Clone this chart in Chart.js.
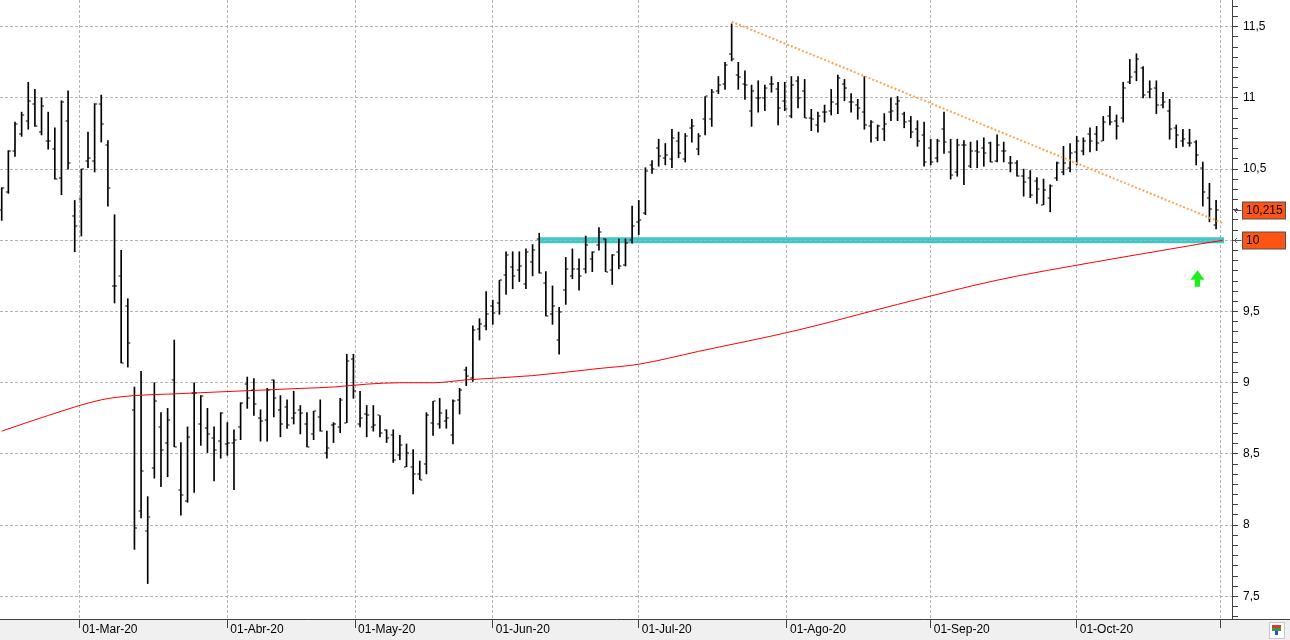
<!DOCTYPE html>
<html>
<head>
<meta charset="utf-8">
<script src="https://cdn.jsdelivr.net/npm/chart.js@4.4.0/dist/chart.umd.min.js"></script>
<style>
html, body { margin: 0; padding: 0; background: #fff; }
canvas { display: block; }
</style>
</head>
<body>
<canvas id="chart" width="1290" height="640"></canvas>
<script>
// trading calendar (Madrid): weekdays minus market holidays
const firstDay = '2020-02-13';
const lastDay = '2020-11-02';
const holidays = ['2020-04-10', '2020-04-13', '2020-05-01'];

const monthStarts = ['2020-03-01', '2020-04-01', '2020-05-01', '2020-06-01', '2020-07-01',
	'2020-08-01', '2020-09-01', '2020-10-01', '2020-11-01'];
const monthLabels = ['01-Mar-20', '01-Abr-20', '01-May-20', '01-Jun-20', '01-Jul-20',
	'01-Ago-20', '01-Sep-20', '01-Oct-20', ''];

// daily bars, one per trading day from 13-Feb-20
const opens = [
	10.21, 10.34, 10.63, 10.75, 10.84, 10.96, 10.76, 10.70, 10.64, 10.44, 10.84, 10.17,
	10.29, 10.56, 10.56, 10.96, 10.67, 9.68, 9.75, 9.54, 8.81, 8.10, 7.96, 8.40, 8.69, 8.58, 9.02, 8.25, 8.17, 8.93, 8.71, 8.68, 8.61, 8.59,
	8.57, 8.58, 8.69, 8.99, 8.95, 8.75, 8.74, 9.02, 8.81, 8.83, 8.75, 8.81, 8.71, 8.64, 8.76, 8.51, 8.70, 8.69, 8.72, 9.17,
	8.71, 8.78, 8.69, 8.77, 8.67, 8.63, 8.49, 8.41, 8.41, 8.36, 8.43, 8.72, 8.71, 8.73, 8.63, 8.88, 9.09, 9.03, 9.38, 9.40,
	9.54, 9.56, 9.76, 9.81, 9.79, 9.69, 9.85, 10.01, 9.70, 9.48, 9.30, 9.65, 9.75, 9.80, 9.80, 9.87, 9.97, 10.01, 9.79, 9.92, 9.83, 10.00,
	10.13, 10.19, 10.53, 10.65, 10.58, 10.57, 10.70, 10.57, 10.79, 10.64, 10.85, 10.85, 11.05, 11.10, 11.31, 11.16, 11.10, 10.91, 11.00, 11.00, 11.10, 11.06, 10.98,
	10.87, 11.12, 11.05, 10.86, 10.81, 10.90, 10.91, 10.96, 11.10, 10.97, 10.95, 10.90, 10.80, 10.72, 10.78, 10.90, 10.96, 10.89, 10.84, 10.78, 10.74,
	10.65, 10.58, 10.78, 10.62, 10.48, 10.67, 10.52, 10.63, 10.65, 10.68, 10.56, 10.63, 10.54, 10.54, 10.45, 10.44, 10.42, 10.25, 10.30, 10.44, 10.48, 10.51,
	10.62, 10.63, 10.75, 10.75, 10.70, 10.87, 10.84, 10.86, 11.11, 11.18, 11.21, 11.04, 11.07, 10.95, 10.91, 10.79, 10.70, 10.68, 10.69, 10.51, 10.30, 10.11
];
const highs = [
	10.37, 10.63, 10.83, 10.90, 11.11, 11.06, 11.00, 10.90, 10.79, 10.98, 11.05, 10.28,
	10.50, 10.76, 10.96, 11.02, 10.70, 10.18, 9.93, 9.59, 8.97, 9.08, 8.20, 9.00, 8.79, 8.82, 9.30, 8.58, 8.69, 9.00, 8.91, 8.82, 8.69, 8.79,
	8.72, 8.67, 8.86, 9.04, 9.03, 8.81, 8.96, 9.02, 8.91, 8.88, 8.94, 8.84, 8.79, 8.80, 8.88, 8.66, 8.72, 8.89, 9.20, 9.20,
	8.94, 8.84, 8.84, 8.77, 8.67, 8.67, 8.63, 8.57, 8.53, 8.45, 8.79, 8.87, 8.89, 8.81, 8.88, 8.96, 9.11, 9.40, 9.45, 9.64,
	9.58, 9.72, 9.92, 9.92, 9.92, 9.94, 9.97, 10.05, 9.78, 9.68, 9.53, 9.88, 9.94, 9.87, 10.03, 9.92, 10.09, 10.01, 9.90, 10.01, 10.01, 10.24,
	10.28, 10.51, 10.56, 10.71, 10.68, 10.78, 10.76, 10.75, 10.85, 10.75, 11.01, 11.06, 11.15, 11.25, 11.52, 11.25, 11.19, 11.09, 11.12, 11.09, 11.15, 11.11, 11.11,
	11.15, 11.15, 11.13, 10.92, 10.90, 10.95, 11.06, 11.16, 11.13, 11.03, 10.99, 11.15, 10.84, 10.81, 10.89, 11.00, 11.01, 10.90, 10.87, 10.84, 10.83,
	10.71, 10.71, 10.90, 10.71, 10.71, 10.70, 10.69, 10.70, 10.72, 10.69, 10.74, 10.69, 10.59, 10.56, 10.50, 10.49, 10.44, 10.43, 10.39, 10.55, 10.66, 10.68,
	10.73, 10.72, 10.79, 10.80, 10.87, 10.94, 10.88, 11.11, 11.27, 11.31, 11.22, 11.12, 11.12, 11.04, 10.99, 10.81, 10.78, 10.78, 10.70, 10.55, 10.40, 10.28
];
const lows = [
	10.14, 10.33, 10.59, 10.73, 10.78, 10.80, 10.74, 10.64, 10.43, 10.32, 10.50, 9.92,
	10.03, 10.51, 10.48, 10.69, 10.24, 9.56, 9.14, 9.11, 7.83, 8.05, 7.59, 8.33, 8.27, 8.34, 8.55, 8.07, 8.16, 8.23, 8.56, 8.51, 8.31, 8.47,
	8.49, 8.25, 8.60, 8.82, 8.77, 8.59, 8.59, 8.76, 8.62, 8.68, 8.71, 8.64, 8.55, 8.60, 8.66, 8.47, 8.58, 8.65, 8.72, 8.89,
	8.69, 8.62, 8.66, 8.62, 8.58, 8.44, 8.46, 8.41, 8.22, 8.32, 8.36, 8.63, 8.68, 8.68, 8.57, 8.78, 8.98, 9.01, 9.30, 9.37,
	9.41, 9.48, 9.62, 9.66, 9.71, 9.66, 9.75, 9.77, 9.47, 9.41, 9.20, 9.55, 9.73, 9.65, 9.77, 9.78, 9.93, 9.78, 9.69, 9.80, 9.82, 9.98,
	10.04, 10.18, 10.47, 10.52, 10.53, 10.51, 10.58, 10.55, 10.69, 10.60, 10.74, 10.80, 11.03, 11.06, 11.26, 11.06, 10.99, 10.80, 10.90, 10.91, 11.04, 10.81, 10.91,
	10.86, 10.93, 10.86, 10.77, 10.76, 10.83, 10.88, 10.89, 10.98, 10.90, 10.85, 10.78, 10.69, 10.70, 10.70, 10.84, 10.84, 10.79, 10.72, 10.66, 10.52,
	10.53, 10.55, 10.61, 10.43, 10.45, 10.39, 10.51, 10.51, 10.52, 10.55, 10.55, 10.55, 10.48, 10.45, 10.31, 10.30, 10.26, 10.25, 10.20, 10.42, 10.46, 10.48,
	10.53, 10.60, 10.62, 10.63, 10.70, 10.81, 10.71, 10.83, 11.10, 11.12, 11.00, 11.00, 10.89, 10.93, 10.71, 10.65, 10.66, 10.66, 10.53, 10.24, 10.13, 10.08
];
const closes = [
	10.37, 10.63, 10.82, 10.88, 10.98, 10.80, 10.94, 10.70, 10.43, 10.97, 10.54, 10.10,
	10.50, 10.58, 10.96, 10.82, 10.37, 9.68, 9.14, 9.28, 7.98, 8.38, 8.06, 8.87, 8.53, 8.74, 8.55, 8.21, 8.62, 8.93, 8.91, 8.64, 8.53, 8.79,
	8.58, 8.60, 8.86, 8.89, 8.85, 8.73, 8.95, 8.89, 8.71, 8.70, 8.79, 8.79, 8.55, 8.80, 8.66, 8.54, 8.71, 8.88, 9.15, 8.94,
	8.75, 8.77, 8.70, 8.65, 8.61, 8.46, 8.56, 8.51, 8.36, 8.32, 8.77, 8.87, 8.79, 8.75, 8.87, 8.95, 9.05, 9.37, 9.41, 9.48,
	9.49, 9.72, 9.90, 9.75, 9.82, 9.92, 9.93, 9.77, 9.47, 9.54, 9.50, 9.80, 9.80, 9.75, 9.97, 9.92, 10.06, 9.78, 9.90, 9.82, 9.98, 10.10,
	10.14, 10.49, 10.50, 10.59, 10.60, 10.72, 10.61, 10.73, 10.80, 10.73, 11.01, 11.04, 11.09, 11.23, 11.27, 11.15, 11.09, 11.05, 11.00, 11.07, 11.10, 10.93, 10.92,
	11.09, 11.00, 10.86, 10.85, 10.87, 10.90, 10.97, 11.14, 11.07, 10.97, 10.93, 10.81, 10.83, 10.80, 10.82, 10.91, 10.98, 10.83, 10.76, 10.70, 10.55,
	10.55, 10.70, 10.69, 10.46, 10.67, 10.67, 10.63, 10.62, 10.61, 10.55, 10.67, 10.63, 10.54, 10.45, 10.41, 10.32, 10.36, 10.35, 10.38, 10.54, 10.54, 10.61,
	10.70, 10.70, 10.70, 10.68, 10.83, 10.83, 10.80, 11.07, 11.15, 11.27, 11.02, 11.06, 10.95, 10.97, 10.78, 10.74, 10.71, 10.68, 10.60, 10.34, 10.22, 10.215
];

// moving average, read at sample bars
const maIdx = [0, 7, 15, 20, 25, 30, 35, 40, 45, 50, 55, 60, 65, 70, 80, 90, 96, 105, 120, 135, 150, 165, 175, 180, 184];
const maVal = [8.66, 8.77, 8.88, 8.91, 8.92, 8.93, 8.94, 8.95, 8.96, 8.97, 8.99, 9.00, 9.00, 9.02, 9.05, 9.10, 9.13, 9.22, 9.37, 9.55, 9.72, 9.85, 9.93, 9.97, 10.00];

// drawn studies
const supportLevel = 10;
const supportFrom = 81, supportTo = 184.2;
const trendIdx = [110, 184.2];
const trendVal = [11.535, 10.117];
const tagValues = [10.215, 10];
const tagTexts = ['10,215', '10'];
const signalIdx = 180.2, signalValue = 9.79;

function tradingDays(from, to) {
	let out = [];
	let d = new Date(from + 'T00:00:00Z');
	let end = new Date(to + 'T00:00:00Z');
	while (d <= end) {
		let wd = d.getUTCDay();
		let iso = d.toISOString().slice(0, 10);
		if (wd != 0 && wd != 6 && holidays.indexOf(iso) < 0) out.push(iso);
		d.setUTCDate(d.getUTCDate() + 1);
	}
	return out;
}

let days = tradingDays(firstDay, lastDay);
let dayMs = days.map(function(d) { return Date.parse(d + 'T00:00:00Z'); });

// month start as a position between trading days
function positionOf(iso) {
	let t = Date.parse(iso + 'T00:00:00Z');
	let k = dayMs.findIndex(function(m) { return m >= t; });
	if (k <= 0) return Math.max(k, 0);
	if (dayMs[k] == t) return k;
	return k - 1 + (t - dayMs[k - 1]) / (dayMs[k] - dayMs[k - 1]);
}
let monthTicks = monthStarts.map(positionOf);

const subSteps = 7;
function isMajor(v) { return Math.abs(v * 2 - Math.round(v * 2)) < 1e-6; }
function fmt(v) { return String(Math.round(v * 10) / 10).replace('.', ','); }

const gridGrey = '#b4b4b4';
const axisDark = '#404040';
const labelFont = { family: "'Liberation Sans', Arial, sans-serif", size: 12 };

let ohlcTicks = {
	id: 'ohlcTicks',
	afterDatasetsDraw: function(chart) {
		let ctx = chart.ctx, x = chart.scales.x, y = chart.scales.y;
		ctx.save();
		ctx.fillStyle = '#000';
		for (let i = 0; i < closes.length; i++) {
			let px = x.getPixelForValue(i);
			ctx.fillRect(px - 2.5, Math.round(y.getPixelForValue(opens[i])) - 0.5, 2, 1);
			ctx.fillRect(px + 0.5, Math.round(y.getPixelForValue(closes[i])) - 0.5, 2, 1);
		}
		ctx.restore();
	}
};

let frame = {
	id: 'frame',
	beforeDraw: function(chart) {
		let ctx = chart.ctx, a = chart.chartArea;
		ctx.save();
		ctx.fillStyle = '#fff';
		ctx.fillRect(0, 0, chart.width, chart.height);
		ctx.fillStyle = '#f0f0f0';
		ctx.fillRect(0, a.bottom, chart.width, chart.height - a.bottom);
		ctx.restore();
	},
	afterDraw: function(chart) {
		let ctx = chart.ctx, a = chart.chartArea, x = chart.scales.x, y = chart.scales.y;
		ctx.save();
		// axis line continues under the price scale
		ctx.strokeStyle = axisDark;
		ctx.lineWidth = 1;
		ctx.beginPath();
		ctx.moveTo(a.right, Math.round(a.bottom) + 0.5);
		ctx.lineTo(chart.width, Math.round(a.bottom) + 0.5);
		ctx.stroke();
		// price tags on the right axis
		ctx.font = "12px 'Liberation Sans', Arial, sans-serif";
		ctx.textBaseline = 'middle';
		for (let i = 0; i < tagValues.length; i++) {
			let py = Math.round(y.getPixelForValue(tagValues[i])) + 0.5;
			ctx.strokeStyle = '#555';
			ctx.lineWidth = 1;
			ctx.beginPath();
			ctx.moveTo(a.right + 2.5, py); ctx.lineTo(a.right + 9.5, py);
			ctx.moveTo(a.right + 5, py - 2.5); ctx.lineTo(a.right + 2.5, py); ctx.lineTo(a.right + 5, py + 2.5);
			ctx.stroke();
			ctx.fillStyle = '#ff5514';
			ctx.fillRect(a.right + 10.5, py - 8.5, 43, 17);
			ctx.strokeStyle = '#505050';
			ctx.strokeRect(a.right + 10.5, py - 8.5, 43, 17);
			ctx.fillStyle = '#000';
			ctx.fillText(tagTexts[i], a.right + 14, py + 0.5);
		}
		// buy signal arrow
		let ax = x.getPixelForValue(signalIdx), ay = y.getPixelForValue(signalValue);
		ctx.fillStyle = '#1cf01c';
		ctx.beginPath();
		ctx.moveTo(ax, ay);
		ctx.lineTo(ax + 7, ay + 9.5);
		ctx.lineTo(ax + 2.7, ay + 9.5);
		ctx.lineTo(ax + 2.7, ay + 16.6);
		ctx.lineTo(ax - 2.7, ay + 16.6);
		ctx.lineTo(ax - 2.7, ay + 9.5);
		ctx.lineTo(ax - 7, ay + 9.5);
		ctx.closePath();
		ctx.fill();
		// corner button
		ctx.fillStyle = '#fff';
		ctx.fillRect(1269, 622, 15, 16);
		ctx.strokeStyle = '#c8c8c8';
		ctx.strokeRect(1269.5, 622.5, 15, 16);
		ctx.fillStyle = '#d23c28'; ctx.fillRect(1272, 625, 9, 3);
		ctx.fillStyle = '#3c9646'; ctx.fillRect(1272, 628, 9, 3);
		ctx.fillStyle = '#2050d0'; ctx.fillRect(1275, 631, 3, 4);
		ctx.restore();
	}
};

new Chart(document.getElementById('chart'), {
	type: 'bar',
	data: {
		datasets: [
			{
				type: 'line',
				data: maIdx.map(function(v, i) { return {x: v, y: maVal[i]}; }),
				borderColor: '#ff0000',
				borderWidth: 1,
				pointRadius: 0,
				cubicInterpolationMode: 'monotone',
				order: 0
			},
			{
				type: 'line',
				data: trendIdx.map(function(v, i) { return {x: v, y: trendVal[i]}; }),
				borderColor: 'rgb(250,168,84)',
				borderWidth: 2,
				borderDash: [2, 2],
				pointRadius: 0,
				order: 1
			},
			{
				data: closes.map(function(c, i) { return {x: i, y: [lows[i], highs[i]]}; }),
				backgroundColor: '#000',
				barThickness: 1,
				order: 3
			},
			{
				type: 'line',
				data: [{x: supportFrom, y: supportLevel}, {x: supportTo, y: supportLevel}],
				borderColor: gridGrey,
				borderWidth: 1,
				borderDash: [3, 2],
				pointRadius: 0,
				order: 4
			},
			{
				type: 'line',
				data: [{x: supportFrom, y: supportLevel}, {x: supportTo, y: supportLevel}],
				borderColor: 'rgb(60,200,200)',
				borderWidth: 6,
				borderCapStyle: 'butt',
				pointRadius: 0,
				order: 5
			}
		]
	},
	options: {
		responsive: false,
		animation: false,
		events: [],
		layout: { padding: 0 },
		plugins: { legend: { display: false }, tooltip: { enabled: false } },
		scales: {
			x: {
				type: 'linear',
				min: -0.26,
				max: 185.4,
				offset: false,
				afterBuildTicks: function(scale) {
					scale.ticks = monthTicks.map(function(v) { return {value: v}; });
				},
				afterFit: function(scale) {
					scale.height = 21;
					scale.paddingLeft = 0;
					scale.paddingRight = 0;
				},
				grid: { offset: false, color: gridGrey, tickColor: axisDark, tickLength: 9 },
				border: { color: axisDark, dash: [3, 2] },
				ticks: {
					autoSkip: false,
					maxRotation: 0,
					align: 'start',
					padding: -6,
					labelOffset: 3,
					color: '#000',
					font: labelFont,
					callback: function(v, i) { return monthLabels[i]; }
				}
			},
			y: {
				position: 'right',
				min: 7.341,
				max: 11.6875,
				afterBuildTicks: function(scale) {
					let t = [];
					for (let j = 0; j <= 40 * subSteps; j++) {
						let v = 7 + j * 0.5 / subSteps;
						if (v >= scale.min && v <= scale.max) t.push({value: v});
					}
					scale.ticks = t;
				},
				afterFit: function(scale) {
					scale.width = 58;
					scale.paddingTop = 0;
					scale.paddingBottom = 0;
				},
				grid: {
					color: function(c) { return c.tick && isMajor(c.tick.value) ? gridGrey : 'rgba(0,0,0,0)'; },
					tickColor: axisDark,
					tickLength: 6
				},
				border: { color: axisDark, dash: [3, 2] },
				ticks: {
					autoSkip: false,
					padding: 5,
					color: '#000',
					font: labelFont,
					callback: function(v) { return isMajor(v) ? fmt(v) : ''; }
				}
			}
		}
	},
	plugins: [frame, ohlcTicks]
});
</script>
</body>
</html>
